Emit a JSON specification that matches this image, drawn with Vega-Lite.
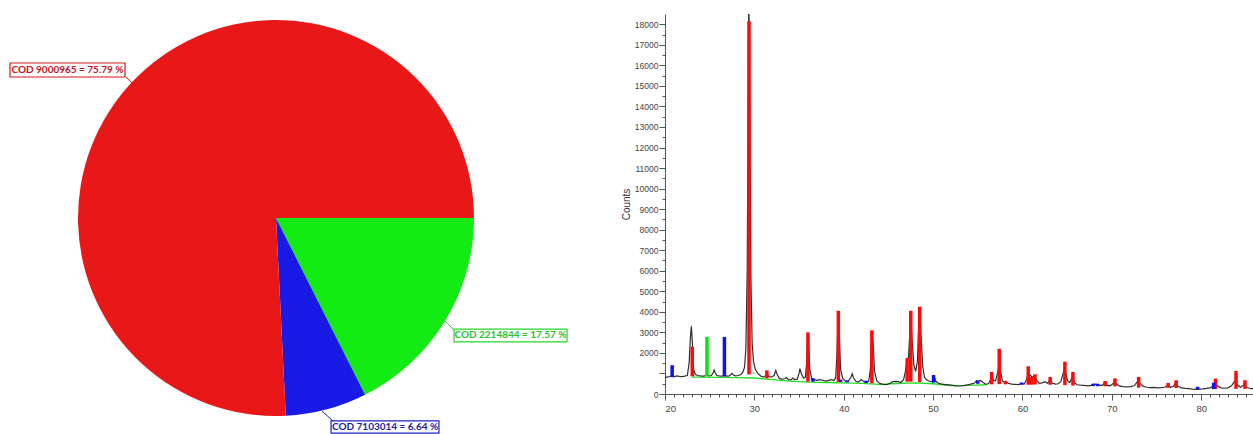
{
  "$schema": "https://vega.github.io/schema/vega-lite/v6.json",
  "padding": {"left": 0, "top": 14, "right": 0, "bottom": 0},
  "autosize": {"type": "pad"},
  "background": "white",
  "config": {"view": {"stroke": null}},
  "bounds": "flush",
  "spacing": 113,
  "resolve": {"scale": {"color": "independent", "stroke": "independent"}},
  "datasets": {
    "pie": [
      {"phase": "COD 2214844", "pct": 17.57},
      {"phase": "COD 7103014", "pct": 6.64},
      {"phase": "COD 9000965", "pct": 75.79}
    ],
    "labels": [
      {"phase": "COD 9000965", "label": "COD 9000965 = 75.79 %", "lx": -1.053, "ly": 0.747, "bx0": -1.3434, "bx1": -0.7626, "by0": 0.7828, "by1": 0.7121, "ax0": -0.758, "ay0": 0.712, "ax1": -0.717, "ay1": 0.672},
      {"phase": "COD 2214844", "label": "COD 2214844 = 17.57 %", "lx": 1.184, "ly": -0.593, "bx0": 0.899, "bx1": 1.47, "by0": -0.561, "by1": -0.626, "ax0": 0.899, "ay0": -0.566, "ax1": 0.848, "ay1": -0.515},
      {"phase": "COD 7103014", "label": "COD 7103014 = 6.64 %", "lx": 0.551, "ly": -1.056, "bx0": 0.278, "bx1": 0.823, "by0": -1.025, "by1": -1.086, "ax0": 0.288, "ay0": -1.025, "ax1": 0.232, "ay1": -0.975}
    ],
    "bg": [
      {"t": 23.0, "c": 820}, {"t": 24, "c": 820}, {"t": 26, "c": 810}, {"t": 28, "c": 800}, {"t": 30, "c": 780},
      {"t": 32, "c": 700}, {"t": 34, "c": 630}, {"t": 36, "c": 580}, {"t": 38, "c": 560}, {"t": 40, "c": 540},
      {"t": 42, "c": 520}, {"t": 44, "c": 470}, {"t": 46, "c": 510}, {"t": 48, "c": 540}, {"t": 50, "c": 500},
      {"t": 52, "c": 410}, {"t": 54, "c": 420}, {"t": 56, "c": 450}
    ],
    "xrd": [
      {"t":20.0,"c":800},{"t":20.3,"c":830},{"t":20.6,"c":850},{"t":20.8,"c":960},{"t":21.0,"c":840},{"t":21.3,"c":880},{"t":21.6,"c":860},{"t":21.9,"c":850},{"t":22.2,"c":870},{"t":22.5,"c":900},{"t":22.7,"c":1500},{"t":22.85,"c":2800},{"t":22.95,"c":3300},{"t":23.05,"c":2600},{"t":23.2,"c":1200},{"t":23.4,"c":950},{"t":23.7,"c":900},{"t":24.0,"c":880},{"t":24.3,"c":870},{"t":24.6,"c":900},{"t":24.75,"c":1000},{"t":24.9,"c":880},{"t":25.2,"c":900},{"t":25.4,"c":1050},{"t":25.5,"c":1170},{"t":25.6,"c":1050},{"t":25.8,"c":900},{"t":26.1,"c":880},{"t":26.4,"c":870},{"t":26.65,"c":950},{"t":26.9,"c":870},{"t":27.2,"c":880},{"t":27.4,"c":960},{"t":27.5,"c":1000},{"t":27.65,"c":920},{"t":27.9,"c":880},{"t":28.2,"c":900},{"t":28.5,"c":950},{"t":28.7,"c":1050},{"t":28.9,"c":1300},{"t":29.05,"c":2200},{"t":29.2,"c":6000},{"t":29.3,"c":14000},{"t":29.38,"c":19500},{"t":29.48,"c":15000},{"t":29.6,"c":6000},{"t":29.75,"c":2500},{"t":29.9,"c":1600},{"t":30.1,"c":1200},{"t":30.4,"c":1000},{"t":30.7,"c":880},{"t":31.0,"c":820},{"t":31.3,"c":900},{"t":31.45,"c":1000},{"t":31.6,"c":850},{"t":31.9,"c":820},{"t":32.2,"c":900},{"t":32.4,"c":1150},{"t":32.55,"c":950},{"t":32.8,"c":760},{"t":33.1,"c":720},{"t":33.4,"c":740},{"t":33.6,"c":800},{"t":33.8,"c":700},{"t":34.1,"c":690},{"t":34.3,"c":780},{"t":34.5,"c":700},{"t":34.8,"c":720},{"t":35.0,"c":1000},{"t":35.1,"c":1230},{"t":35.25,"c":1000},{"t":35.5,"c":780},{"t":35.7,"c":800},{"t":35.85,"c":1500},{"t":35.95,"c":2900},{"t":36.05,"c":2700},{"t":36.2,"c":1200},{"t":36.4,"c":780},{"t":36.7,"c":700},{"t":37.0,"c":660},{"t":37.3,"c":700},{"t":37.5,"c":680},{"t":37.8,"c":650},{"t":38.1,"c":630},{"t":38.4,"c":680},{"t":38.7,"c":700},{"t":38.9,"c":650},{"t":39.1,"c":800},{"t":39.25,"c":2000},{"t":39.38,"c":3900},{"t":39.5,"c":2900},{"t":39.65,"c":1200},{"t":39.9,"c":750},{"t":40.2,"c":640},{"t":40.5,"c":620},{"t":40.8,"c":800},{"t":40.95,"c":990},{"t":41.1,"c":780},{"t":41.4,"c":600},{"t":41.7,"c":590},{"t":41.95,"c":700},{"t":42.2,"c":620},{"t":42.5,"c":570},{"t":42.8,"c":620},{"t":43.0,"c":1300},{"t":43.15,"c":3000},{"t":43.3,"c":2400},{"t":43.45,"c":1100},{"t":43.7,"c":650},{"t":44.0,"c":520},{"t":44.3,"c":480},{"t":44.6,"c":460},{"t":44.9,"c":470},{"t":45.2,"c":520},{"t":45.5,"c":600},{"t":45.8,"c":610},{"t":46.1,"c":600},{"t":46.4,"c":560},{"t":46.7,"c":700},{"t":46.9,"c":1100},{"t":47.1,"c":1700},{"t":47.25,"c":1800},{"t":47.4,"c":3000},{"t":47.5,"c":3900},{"t":47.65,"c":2600},{"t":47.85,"c":1400},{"t":48.05,"c":1100},{"t":48.25,"c":1600},{"t":48.4,"c":3500},{"t":48.5,"c":4100},{"t":48.65,"c":2800},{"t":48.85,"c":1300},{"t":49.05,"c":800},{"t":49.3,"c":680},{"t":49.6,"c":620},{"t":49.9,"c":600},{"t":50.1,"c":870},{"t":50.3,"c":620},{"t":50.6,"c":520},{"t":51.0,"c":480},{"t":51.4,"c":460},{"t":51.8,"c":440},{"t":52.2,"c":420},{"t":52.6,"c":400},{"t":53.0,"c":390},{"t":53.4,"c":410},{"t":53.8,"c":440},{"t":54.2,"c":480},{"t":54.6,"c":520},{"t":54.85,"c":650},{"t":55.05,"c":620},{"t":55.3,"c":660},{"t":55.6,"c":560},{"t":55.9,"c":480},{"t":56.2,"c":500},{"t":56.45,"c":700},{"t":56.6,"c":900},{"t":56.75,"c":650},{"t":57.0,"c":650},{"t":57.2,"c":1000},{"t":57.4,"c":1370},{"t":57.55,"c":1100},{"t":57.75,"c":650},{"t":58.0,"c":560},{"t":58.15,"c":620},{"t":58.4,"c":520},{"t":58.8,"c":480},{"t":59.2,"c":470},{"t":59.6,"c":460},{"t":59.9,"c":520},{"t":60.2,"c":480},{"t":60.45,"c":700},{"t":60.7,"c":1040},{"t":60.9,"c":900},{"t":61.1,"c":820},{"t":61.35,"c":880},{"t":61.6,"c":650},{"t":61.9,"c":520},{"t":62.2,"c":540},{"t":62.5,"c":600},{"t":62.8,"c":520},{"t":63.1,"c":680},{"t":63.35,"c":520},{"t":63.7,"c":480},{"t":64.0,"c":500},{"t":64.3,"c":600},{"t":64.55,"c":1000},{"t":64.7,"c":1230},{"t":64.85,"c":1000},{"t":65.05,"c":650},{"t":65.3,"c":560},{"t":65.6,"c":850},{"t":65.8,"c":560},{"t":66.1,"c":450},{"t":66.5,"c":430},{"t":66.9,"c":420},{"t":67.3,"c":400},{"t":67.7,"c":420},{"t":68.0,"c":480},{"t":68.3,"c":470},{"t":68.6,"c":420},{"t":68.9,"c":420},{"t":69.25,"c":560},{"t":69.5,"c":420},{"t":69.8,"c":400},{"t":70.05,"c":470},{"t":70.3,"c":600},{"t":70.55,"c":470},{"t":70.9,"c":380},{"t":71.3,"c":360},{"t":71.7,"c":350},{"t":72.1,"c":360},{"t":72.5,"c":400},{"t":72.8,"c":560},{"t":72.95,"c":650},{"t":73.15,"c":520},{"t":73.5,"c":380},{"t":73.9,"c":330},{"t":74.3,"c":310},{"t":74.7,"c":320},{"t":75.1,"c":300},{"t":75.5,"c":310},{"t":75.9,"c":330},{"t":76.3,"c":420},{"t":76.6,"c":330},{"t":76.9,"c":380},{"t":77.15,"c":560},{"t":77.4,"c":380},{"t":77.8,"c":300},{"t":78.2,"c":270},{"t":78.6,"c":260},{"t":79.0,"c":240},{"t":79.4,"c":230},{"t":79.8,"c":240},{"t":80.2,"c":250},{"t":80.6,"c":270},{"t":81.0,"c":300},{"t":81.3,"c":380},{"t":81.55,"c":560},{"t":81.8,"c":400},{"t":82.2,"c":300},{"t":82.6,"c":280},{"t":83.0,"c":300},{"t":83.4,"c":400},{"t":83.7,"c":600},{"t":83.85,"c":630},{"t":84.05,"c":450},{"t":84.4,"c":330},{"t":84.8,"c":450},{"t":85.0,"c":330},{"t":85.4,"c":280},{"t":85.8,"c":250}
    ],
    "sticks": [
      {"phase": "COD 9000965", "t": 23.05, "c": 860, "top": 2300},
      {"phase": "COD 9000965", "t": 29.4, "c": 950, "top": 18150},
      {"phase": "COD 9000965", "t": 31.4, "c": 760, "top": 1150},
      {"phase": "COD 9000965", "t": 36.0, "c": 600, "top": 3000},
      {"phase": "COD 9000965", "t": 39.4, "c": 590, "top": 4050},
      {"phase": "COD 9000965", "t": 43.15, "c": 520, "top": 3100},
      {"phase": "COD 9000965", "t": 47.1, "c": 600, "top": 1750},
      {"phase": "COD 9000965", "t": 47.5, "c": 600, "top": 4050},
      {"phase": "COD 9000965", "t": 48.5, "c": 580, "top": 4250},
      {"phase": "COD 9000965", "t": 56.55, "c": 470, "top": 1070},
      {"phase": "COD 9000965", "t": 57.4, "c": 480, "top": 2200},
      {"phase": "COD 9000965", "t": 58.1, "c": 470, "top": 600},
      {"phase": "COD 9000965", "t": 60.65, "c": 450, "top": 1350},
      {"phase": "COD 9000965", "t": 61.0, "c": 455, "top": 830},
      {"phase": "COD 9000965", "t": 61.4, "c": 460, "top": 960},
      {"phase": "COD 9000965", "t": 63.1, "c": 450, "top": 830},
      {"phase": "COD 9000965", "t": 64.75, "c": 430, "top": 1575},
      {"phase": "COD 9000965", "t": 65.65, "c": 410, "top": 1070},
      {"phase": "COD 9000965", "t": 69.25, "c": 375, "top": 630},
      {"phase": "COD 9000965", "t": 70.35, "c": 370, "top": 760},
      {"phase": "COD 9000965", "t": 73.0, "c": 310, "top": 830},
      {"phase": "COD 9000965", "t": 76.3, "c": 300, "top": 540},
      {"phase": "COD 9000965", "t": 77.2, "c": 290, "top": 670},
      {"phase": "COD 9000965", "t": 81.6, "c": 240, "top": 750},
      {"phase": "COD 9000965", "t": 83.9, "c": 250, "top": 1120},
      {"phase": "COD 9000965", "t": 84.9, "c": 250, "top": 670},
      {"phase": "COD 7103014", "t": 20.8, "c": 820, "top": 1400},
      {"phase": "COD 7103014", "t": 26.65, "c": 850, "top": 2780},
      {"phase": "COD 7103014", "t": 36.55, "c": 600, "top": 765},
      {"phase": "COD 7103014", "t": 39.65, "c": 590, "top": 700},
      {"phase": "COD 7103014", "t": 40.4, "c": 570, "top": 650},
      {"phase": "COD 7103014", "t": 42.5, "c": 540, "top": 650},
      {"phase": "COD 7103014", "t": 50.05, "c": 550, "top": 925},
      {"phase": "COD 7103014", "t": 55.0, "c": 500, "top": 650},
      {"phase": "COD 7103014", "t": 59.9, "c": 450, "top": 560},
      {"phase": "COD 7103014", "t": 67.9, "c": 380, "top": 500},
      {"phase": "COD 7103014", "t": 68.4, "c": 380, "top": 500},
      {"phase": "COD 7103014", "t": 79.6, "c": 230, "top": 350},
      {"phase": "COD 7103014", "t": 81.4, "c": 240, "top": 550},
      {"phase": "COD 2214844", "t": 24.7, "c": 860, "top": 2780},
      {"phase": "COD 2214844", "t": 29.95, "c": 1000, "top": 1040}
    ]
  },
  "hconcat": [
    {
      "width": 552,
      "height": 408,
      "layer": [
        {
          "data": {"name": "pie"},
          "transform": [{"stack": "pct", "groupby": [], "sort": [{"field": "phase", "order": "ascending"}], "as": ["a0", "a1"]}],
          "mark": {"type": "arc", "outerRadius": 198},
          "encoding": {
            "theta": {"field": "a0", "type": "quantitative", "scale": {"domain": [0, 100], "range": [1.5707963, 7.8539816]}},
            "theta2": {"field": "a1"},
            "color": {"field": "phase", "type": "nominal", "legend": null,
              "scale": {"domain": ["COD 2214844", "COD 7103014", "COD 9000965"], "range": ["#12ec14", "#1a1ae6", "#e81818"]}}
          }
        },
        {
          "data": {"name": "labels"},
          "mark": {"type": "rule", "strokeWidth": 1},
          "encoding": {
            "x": {"field": "ax0", "type": "quantitative", "axis": null, "scale": {"domain": [-1.3939, 1.3939], "nice": false, "zero": false}},
            "y": {"field": "ay0", "type": "quantitative", "axis": null, "scale": {"domain": [-1.0303, 1.0303], "nice": false, "zero": false}},
            "x2": {"field": "ax1"},
            "y2": {"field": "ay1"},
            "stroke": {"field": "phase", "type": "nominal", "legend": null,
              "scale": {"domain": ["COD 2214844", "COD 7103014", "COD 9000965"], "range": ["#2ad42a", "#2020c0", "#d41a1a"]}}
          }
        },
        {
          "data": {"name": "labels"},
          "mark": {"type": "rect", "fill": "white", "strokeWidth": 1.2},
          "encoding": {
            "x": {"field": "bx0", "type": "quantitative"},
            "x2": {"field": "bx1"},
            "y": {"field": "by0", "type": "quantitative"},
            "y2": {"field": "by1"},
            "stroke": {"field": "phase", "type": "nominal", "legend": null}
          }
        },
        {
          "data": {"name": "labels"},
          "mark": {"type": "text", "font": "Lato", "fontWeight": "bold", "fontSize": 10, "align": "center", "baseline": "middle"},
          "encoding": {
            "x": {"field": "lx", "type": "quantitative"},
            "y": {"field": "ly", "type": "quantitative"},
            "text": {"field": "label"},
            "fill": {"field": "phase", "type": "nominal", "legend": null,
              "scale": {"domain": ["COD 2214844", "COD 7103014", "COD 9000965"], "range": ["#2cc02c", "#1c1ca0", "#c01420"]}}
          }
        }
      ]
    },
    {
      "width": 588,
      "height": 380,
      "encoding": {
        "x": {"field": "t", "type": "quantitative", "title": null,
          "scale": {"domain": [20, 85.8], "nice": false, "zero": false},
          "axis": {
            "values": [20,21,22,23,24,25,26,27,28,29,30,31,32,33,34,35,36,37,38,39,40,41,42,43,44,45,46,47,48,49,50,51,52,53,54,55,56,57,58,59,60,61,62,63,64,65,66,67,68,69,70,71,72,73,74,75,76,77,78,79,80,81,82,83,84,85],
            "labelExpr": "datum.value % 10 === 0 ? datum.label : ''",
            "labelOverlap": false,
            "grid": false,
            "tickSize": {"condition": {"test": "datum.value % 10 === 0", "value": 6}, "value": 3},
            "labelFont": "Liberation Sans", "labelFontSize": 9.5, "labelColor": "#444",
            "domainColor": "#555", "tickColor": "#555", "labelPadding": 3
          }},
        "y": {"field": "c", "type": "quantitative",
          "scale": {"domain": [0, 18500], "nice": false},
          "axis": {
            "title": "Counts",
            "values": [0,500,1000,1500,2000,2500,3000,3500,4000,4500,5000,5500,6000,6500,7000,7500,8000,8500,9000,9500,10000,10500,11000,11500,12000,12500,13000,13500,14000,14500,15000,15500,16000,16500,17000,17500,18000],
            "format": "d",
            "labelExpr": "datum.value % 1000 === 0 && datum.value !== 1000 ? datum.label : ''",
            "labelOverlap": false,
            "grid": false,
            "tickSize": {"condition": {"test": "datum.value % 1000 === 0", "value": 6}, "value": 3},
            "labelFont": "Liberation Sans", "labelFontSize": 8.5, "labelColor": "#444",
            "domainColor": "#555", "tickColor": "#555", "labelPadding": 1,
            "titleFont": "Liberation Sans", "titleFontSize": 10, "titleFontWeight": "normal", "titleColor": "#333", "titlePadding": 3
          }}
      },
      "layer": [
        {
          "data": {"name": "bg"},
          "mark": {"type": "line", "color": "#22dd22", "strokeWidth": 1.3}
        },
        {
          "data": {"name": "xrd"},
          "mark": {"type": "line", "color": "#2e2e2e", "strokeWidth": 1.2, "clip": true}
        },
        {
          "data": {"name": "sticks"},
          "mark": {"type": "rule", "strokeWidth": 3.5, "clip": true},
          "encoding": {
            "y2": {"field": "top"},
            "stroke": {"field": "phase", "type": "nominal", "legend": null,
              "scale": {"domain": ["COD 2214844", "COD 7103014", "COD 9000965"], "range": ["#10e010", "#1010f0", "#ff0a0a"]}}
          }
        }
      ]
    }
  ]
}
